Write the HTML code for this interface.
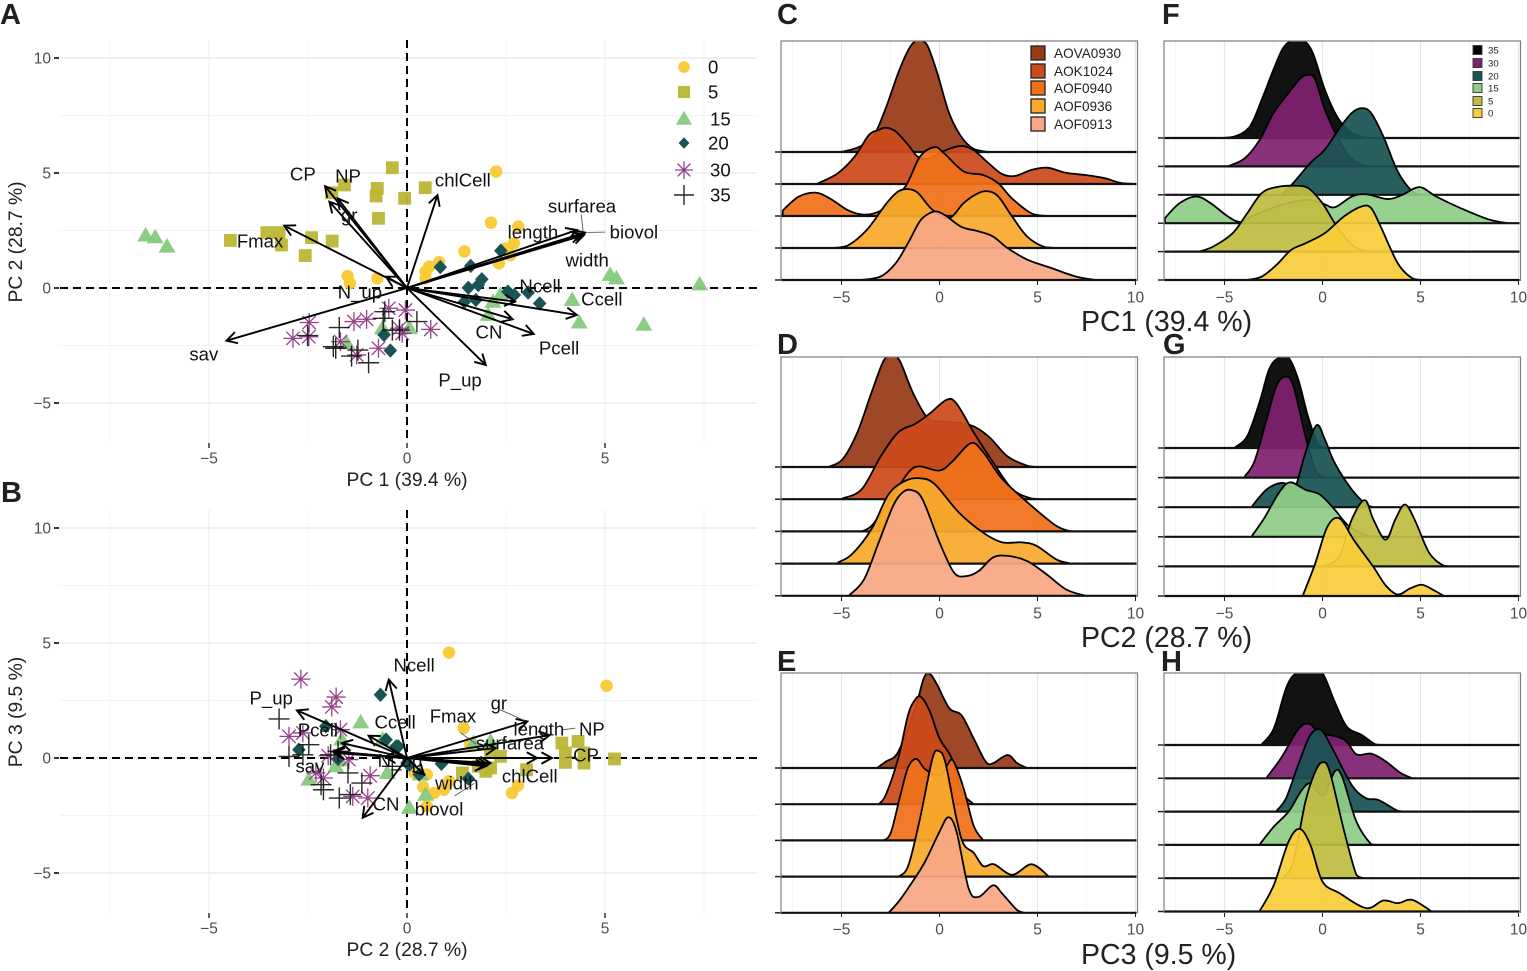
<!DOCTYPE html>
<html lang="en">
<head>
<meta charset="utf-8">
<title>PCA biplots and ridgeline densities</title>
<style>
html,body{margin:0;padding:0;background:#fff}
svg{display:block;font-family:"Liberation Sans",Arial,sans-serif}
</style>
</head>
<body>
<svg id="figure" xmlns="http://www.w3.org/2000/svg" width="1527" height="971" viewBox="0 0 1527 971">
<rect width="1527" height="971" fill="#fff"/>
</svg>
<script>
/* ---------- shared categories ---------- */
const groupOrder = ['0','5','15','20','30','35'];
const strainNames = ['AOVA0930','AOK1024','AOF0940','AOF0936','AOF0913'];
const tempNames = ['35','30','20','15','5','0'];
const strainColors = ['#973a17','#cc4a1c','#f0711a','#f8a92c','#f8a884'];
const tempColors = ['#000000','#7f2170','#1a5354','#8fcd87','#c0bd42','#f9cd3a'];
const scatterXTicks = [-5,0,5];
const scatterYTicks = [-5,0,5,10];
const ridgeTicks = [-5,0,5,10];

/* ---------- panel A scores (PC1, PC2) ---------- */
const a0 = [[2.25,5.06],[2.12,2.84],[2.81,2.67],[1.45,1.59],[.81,1.12],[.56,.93],[.47,.71],[-1.5,.52],[-1.44,.2],[-.75,.42],[.47,.42],[2.32,1.07],[2.61,1.43],[2.7,1.94],[2.48,1.72]];
const a5 = [[-.37,5.23],[-1.58,4.48],[-1.9,4.14],[-.75,4.33],[-.78,4.0],[-.06,3.9],[.46,4.36],[-.72,3.03],[-3.54,2.41],[-3.23,2.41],[-3.17,1.87],[-2.41,2.19],[-1.89,2.04],[-4.46,2.07],[-2.57,1.41]];
const a15 = [[-6.6,2.28],[-6.36,2.2],[-6.06,1.8],[5.13,.57],[5.29,.42],[7.39,.16],[4.17,-.52],[4.35,-1.5],[5.98,-1.6],[2.17,-.6],[2.05,-1.17],[2.36,-.3],[-.62,-1.75],[.06,-1.75],[-1.52,-2.4]];
const a20 = [[.84,.91],[1.61,.96],[2.37,1.62],[1.89,.38],[1.8,.13],[1.55,.01],[2.55,-.16],[2.71,-.3],[3.06,-.2],[3.35,-.67],[1.45,-.6],[1.74,-.52],[-.58,-2.04],[-.42,-2.72]];
const a30 = [[-.46,-.88],[-.04,-.96],[.6,-1.8],[-2.47,-1.5],[-1.34,-1.46],[-1.02,-1.36],[-2.88,-2.19],[-2.48,-2.12],[-1.68,-2.33],[-1.27,-2.91],[-.72,-2.62],[-.19,-1.75],[-.12,-1.97]];
const a35 = [[.25,-1.46],[-1.71,-1.72],[-2.51,-2.07],[-1.86,-2.55],[-1.8,-2.62],[-1.24,-2.7],[-1.4,-2.96],[-.97,-3.25],[-.37,-1.83],[-.19,-1.83],[-.6,-1.32],[-.56,-1.03]];
/* panel A loadings */
const aArrows = [[-2.07,4.43],[-1.96,3.75],[-1.75,3.9],[-3.1,2.71],[.77,4.04],[4.29,2.52],[4.5,2.41],[4.47,2.3],[4.4,2.35],[2.73,-.59],[4.29,-1.17],[2.67,-1.36],[3.2,-2.0],[1.99,-3.35],[-4.56,-2.29],[-.53,.49]];
const aLabelNames = ['CP','NP','gr','Fmax','chlCell','surfarea','biovol','length','width','Ncell','Ccell','N_up','CN','Pcell','P_up','sav'];
const aLabelX = [-2.63,-1.49,-1.46,-3.71,1.41,4.42,5.73,3.18,4.55,3.36,4.92,-1.19,2.07,3.84,1.34,-5.13];
const aLabelY = [4.96,4.87,3.17,2.04,4.7,3.57,2.43,2.43,1.22,.09,-.48,-.17,-1.91,-2.61,-4,-2.87];
const aLeaders = [[4.4,3.2,4.45,2.42],[4.55,2.42,5.0,2.43]];

/* ---------- panel B scores (PC2, PC3) ---------- */
const b0 = [[1.06,4.58],[5.04,3.14],[1.43,1.3],[1.59,.62],[.41,-1.26],[2.8,-1.2],[2.65,-1.52],[.68,-1.52],[.93,-1.38],[1.06,-1.01],[.5,-2.1],[.19,-.65],[.5,-.72],[1.86,-.22]];
const b5 = [[3.91,.65],[4.32,.72],[4.0,.22],[4.0,-.19],[4.47,-.22],[4.47,.22],[5.24,-.04],[3.02,-.51],[1.99,-.58],[2.11,-.43],[1.4,-.65],[2.36,.07],[2.11,.29],[1.8,-.36]];
const b15 = [[-1.17,1.55],[-1.65,.8],[-1.8,-.36],[-2.48,-.94],[-.5,-.65],[-.62,.8],[.34,-.72],[.47,-1.6],[.06,-2.17],[2.11,.72],[1.68,.65],[-1.7,-.1]];
const b20 = [[-.67,2.75],[-.53,.8],[-.22,.5],[-2.73,.36],[-2.05,1.38],[-1.74,-.04],[.87,-.25],[1.55,-.9],[.31,-.72],[0,-.22],[.06,-.29],[-.27,.51]];
const b30 = [[-2.68,3.43],[-1.79,2.65],[-1.9,2.22],[-1.68,1.23],[-2.98,.94],[-2.63,1.09],[-1.99,.1],[-1.47,-.07],[-2.3,-.65],[-2.11,-.87],[-.93,-.77],[-1.37,-1.67],[-.99,-1.74]];
const b35 = [[-3.23,1.7],[-2.48,.58],[-2.98,.07],[-2.63,.14],[-1.93,.14],[-1.74,.29],[-1.49,-.65],[-1.14,-1.09],[-2.17,-1.16],[-2.11,-1.38],[-1.71,-1.74],[-1.43,-1.59],[-.37,-.36]];
/* panel B loadings */
const bArrows = [[-.46,3.41],[-2.78,2.07],[-.97,.97],[-1.65,.65],[-1.86,.29],[-1.84,.22],[-.55,.05],[-1.12,-2.6],[3.04,1.59],[3.6,.99],[2.24,.43],[3.66,0],[3.29,0],[2.11,-.22],[2.05,-.29],[1.99,-.36],[.43,-.72]];
const bLabelNames = ['Ncell','P_up','Pcell','Ccell','Fmax','gr','length','NP','surfarea','CP','N_up','sav','width','chlCell','CN','biovol'];
const bLabelX = [.18,-3.43,-2.25,-.3,1.16,2.32,3.33,4.67,2.6,4.52,-.18,-2.45,1.26,3.1,-.53,.81];
const bLabelY = [4.04,2.61,1.22,1.57,1.83,2.39,1.26,1.26,.65,.13,-.1,-.35,-1.09,-.78,-2,-2.22];
const bLeaders = [[2.35,2.1,3.0,1.6],[1.35,1.1,1.75,.6],[3.9,1.22,4.25,1.3],[4.0,.02,4.25,.05],[1.2,-1.65,1.7,-1.1]];

/* ---------- ridge densities: [score, density in ridge-spacing units] ---------- */
const cAova0930 = [[-5,0],[-4.1,.16],[-3.35,.52],[-2.73,1.39],[-2.1,2.48],[-1.6,3.18],[-1.24,3.47],[-1,3.49],[-.62,3.33],[-.12,2.48],[.5,1.2],[1.12,.47],[1.74,.1],[2.5,0]];
const cAok1024 = [[-6.2,.02],[-5.2,.33],[-4.34,.85],[-3.6,1.53],[-3.1,1.69],[-2.73,1.76],[-2.23,1.64],[-1.6,1.22],[-1.1,.85],[-.5,.8],[.37,1.07],[1.12,1.19],[1.74,1.06],[2.5,.65],[3.2,.31],[3.85,.25],[4.7,.44],[5.5,.51],[6.45,.35],[7.45,.28],[8.44,.18],[9.2,.04],[9.95,0]];
const cAof0940 = [[-8,.17],[-7.2,.6],[-6.33,.73],[-5.6,.55],[-4.7,.19],[-4,.05],[-3.35,.08],[-2.73,.29],[-1.74,.92],[-1,1.85],[-.25,2.15],[.25,1.95],[1.24,1.39],[2.23,1.28],[3,1.02],[3.7,.55],[4.7,.08],[5.5,0]];
const cAof0936 = [[-5.45,0],[-4.7,.07],[-3.7,.57],[-2.7,1.4],[-2.1,1.77],[-1.6,1.84],[-1.1,1.72],[-.37,1.2],[.5,.94],[1.24,1.41],[2,1.72],[2.5,1.77],[3,1.61],[3.7,.99],[4.47,.36],[5.35,.03],[6,0]];
const cAof0913 = [[-4,0],[-3,.11],[-2.23,.53],[-1.6,1.16],[-1,1.84],[-.5,2.09],[-.12,2.14],[.37,1.99],[1.12,1.66],[2,1.52],[2.73,1.36],[3.47,1],[4.47,.64],[5.7,.375],[6.95,.11],[7.95,0]];

const dAova0930 = [[-5.7,0],[-4.96,.23],[-4.2,1.06],[-3.47,2.31],[-2.85,3.3],[-2.43,3.44],[-2.03,3.3],[-1.36,2.31],[-.62,1.53],[0,1.42],[1.49,1.32],[2.48,.96],[3.47,.33],[4.47,.04],[4.96,0]];
const dAok1024 = [[-4.96,.02],[-3.97,.31],[-2.98,1.35],[-2.1,2.08],[-1.24,2.34],[-.5,2.66],[.37,3.09],[.87,2.97],[1.74,2.08],[2.73,1.15],[3.72,.31],[4.7,.02],[5.2,0]];
const dAof0940 = [[-3.97,0],[-3.47,.17],[-2.73,.79],[-2,1.47],[-1.5,1.89],[-1,2.02],[0,1.89],[.62,2.15],[1.6,2.74],[2.23,2.46],[3.2,1.63],[4.7,.79],[5.96,.17],[6.7,0]];
const dAof0936 = [[-5.2,.03],[-4.47,.29],[-3.47,1.07],[-2.6,2.15],[-1.74,2.57],[-1,2.65],[-.25,2.47],[1,1.58],[2.23,.96],[3.2,.66],[4.2,.66],[4.96,.55],[5.96,.13],[6.7,0]];
const dAof0913 = [[-4.6,.02],[-3.85,.51],[-3.1,1.66],[-2.36,2.8],[-1.86,3.22],[-1.41,3.28],[-.87,3],[0,1.66],[.74,.72],[1.36,.61],[2,.77],[2.73,1.19],[3.47,1.24],[4.47,1.08],[5.46,.67],[6.45,.2],[7.44,0]];

const eAova0930 = [[-3.2,0],[-2.73,.18],[-2.1,.45],[-1.24,1.65],[-.8,2.48],[-.5,2.6],[-.12,2.3],[.5,1.65],[1.12,1.46],[1.74,.82],[2.35,.18],[2.73,.13],[3.47,.36],[3.97,.13],[4.47,0]];
const eAok1024 = [[-3.1,0],[-2.73,.27],[-2.1,1.28],[-1.6,2.47],[-1.24,2.89],[-.94,2.96],[-.5,2.57],[0,1.82],[.62,1.27],[1.12,.36],[1.74,0]];
const eAof0940 = [[-2.85,0],[-2.48,.22],[-2,1.24],[-1.6,2.02],[-1.17,2.25],[-.74,1.97],[0,1.79],[.37,2.06],[.7,2.2],[1.24,1.42],[1.74,.41],[2.23,0]];
const eAof0936 = [[-2.1,0],[-1.6,.29],[-1,1.59],[-.37,3.24],[-.05,3.47],[.3,3.15],[.87,1.59],[1.24,.89],[1.74,.66],[2.23,.29],[2.78,.34],[3.72,.05],[4.7,.34],[5.58,0]];
const eAof0913 = [[-2.6,0],[-2.1,.3],[-1.5,.76],[-.74,1.41],[0,2.24],[.45,2.64],[.87,2.24],[1.49,.67],[2,.44],[2.73,.76],[3.2,.53],[3.97,.07],[4.34,0]];

const fT35 = [[-5.3,0],[-4.46,.06],[-3.7,.41],[-3.1,1.35],[-2.5,2.41],[-2,3.18],[-1.5,3.45],[-1,3.45],[-.5,3],[.12,1.7],[.74,.76],[1.36,.24],[2,.04],[2.6,0]];
const fT30 = [[-4.83,0],[-3.96,.29],[-3.2,.94],[-2.5,1.88],[-1.73,2.59],[-1.1,3.12],[-.67,3.22],[-.37,3.06],[.12,2],[.74,1.06],[1.36,.35],[2,.06],[2.6,0]];
const fT20 = [[-2.1,0],[-1.5,.41],[-.62,1.12],[.12,1.59],[.87,2.35],[1.49,2.88],[2,3.05],[2.48,2.88],[3.1,2.06],[3.84,.82],[4.58,.12],[5.07,0]];
const fT15 = [[-8.04,.18],[-7.3,.7],[-6.44,.94],[-5.7,.7],[-4.83,.24],[-4.2,.04],[-3.6,.24],[-2.35,.59],[-.87,.82],[0,.7],[.62,.56],[1.5,.94],[2.23,1.02],[3.34,.85],[4.08,1],[4.95,1.27],[5.8,.94],[7.05,.53],[8.54,.12],[9.5,0]];
const fT5 = [[-6.3,0],[-5.57,.18],[-4.58,.65],[-3.84,1.35],[-3.1,2.06],[-2.35,2.27],[-1.49,2.32],[-.74,2.24],[0,1.7],[.74,.88],[1.6,.18],[2.35,0]];
const fT0 = [[-3.84,0],[-3.1,.12],[-2.35,.53],[-1.6,1.06],[-.87,1.29],[.12,1.65],[1.1,2.24],[2,2.59],[2.48,2.53],[2.97,1.88],[3.84,.59],[4.58,.06],[5.07,0]];

const gT35 = [[-4.46,.02],[-3.84,.4],[-3.22,1.53],[-2.72,2.66],[-2.23,3.05],[-1.73,3.05],[-1.24,2.32],[-.74,1.07],[-.25,.17],[.12,0]];
const gT30 = [[-3.96,.05],[-3.47,.55],[-2.85,1.97],[-2.35,3.1],[-1.9,3.41],[-1.49,3.1],[-.87,1.4],[-.37,.27],[.12,0]];
const gT20 = [[-3.6,.03],[-2.85,.6],[-2.1,.82],[-1.6,.71],[-1.36,.71],[-.87,1.84],[-.3,2.77],[.12,2.29],[.62,1.5],[1.49,.6],[2.23,.09],[2.6,0]];
const gT15 = [[-3.6,.03],[-2.97,.63],[-2.23,1.48],[-1.66,1.84],[-.87,1.59],[-.12,1.42],[.62,.92],[1.36,.35],[2.35,.03],[2.85,0]];
const gT5 = [[.12,.02],[.87,.34],[1.49,1.58],[2.15,2.24],[2.6,1.58],[3.22,.9],[3.71,1.58],[4.2,2.09],[4.7,1.58],[5.45,.45],[6.19,.02],[6.56,0]];
const gT0 = [[-1,.02],[-.37,1.1],[.25,2.34],[.87,2.62],[1.6,1.89],[2.6,.98],[3.22,.36],[3.84,.05],[4.46,.25],[5.07,.38],[5.69,.19],[6.19,0]];

const hT35 = [[-3.1,.02],[-2.48,.5],[-1.86,1.7],[-1.36,2.15],[-.62,2.22],[0,2.15],[.62,1.3],[1.24,.55],[2,.3],[2.7,.02],[3.1,0]];
const hT30 = [[-2.85,.02],[-2.1,.62],[-1.24,1.47],[-.7,1.64],[-.12,1.37],[1.1,1.17],[1.73,.72],[2.48,.74],[3.2,.52],[3.96,.17],[4.58,0]];
const hT20 = [[-2.35,.02],[-1.86,.4],[-1.24,1.4],[-.62,2.3],[-.07,2.45],[.5,1.9],[1.49,.8],[2.23,.4],[2.85,.35],[3.84,.02],[4.2,0]];
const hT15 = [[-3.2,.02],[-2.48,.55],[-1.73,1],[-1.11,1.6],[-.67,1.85],[-.25,1.6],[.12,1.5],[.62,2.2],[1,2.05],[1.73,.7],[2.48,.02],[2.8,0]];
const hT5 = [[-2,0],[-1.49,.5],[-.87,2.3],[-.37,3.2],[0,3.48],[.37,3.2],[1.11,1.4],[1.73,.1],[2.1,0]];
const hT0 = [[-3.2,.02],[-2.48,.8],[-1.73,2.1],[-1.16,2.48],[-.62,2],[0,.9],[.87,.55],[2.23,.1],[3.1,.33],[3.84,.25],[4.58,.35],[5.57,0]];

/* ---------- helpers ---------- */
const svg = document.getElementById('figure');
const NS = 'http://www.w3.org/2000/svg';
function mk(tag, attrs, parent) {
  const el = document.createElementNS(NS, tag);
  for (const k in attrs) el.setAttribute(k, attrs[k]);
  (parent || svg).appendChild(el);
  return el;
}
function txt(str, x, y, size, fill, anchor, parent, weight) {
  const t = mk('text', {x: x, y: y, 'font-size': size, fill: fill, 'text-anchor': anchor || 'middle', 'font-weight': weight || 'normal'}, parent);
  t.textContent = str;
  return t;
}
function minusFmt(v) { return v < 0 ? '\u2212' + Math.abs(v) : String(v); }

const markerColors = {circle: '#f9c932', square: '#b9b635', triangle: '#86c97e', diamond: '#1a5354', star: '#8a2f80', plus: '#111'};
const markerKinds = ['circle','square','triangle','diamond','star','plus'];
function marker(kind, x, y, parent, k) {
  const s = k || 1, c = markerColors[kind];
  if (kind === 'circle') return mk('circle', {cx: x, cy: y, r: 6.2 * s, fill: c, 'fill-opacity': .95}, parent);
  if (kind === 'square') return mk('rect', {x: x - 6.4 * s, y: y - 6.4 * s, width: 12.8 * s, height: 12.8 * s, fill: c, 'fill-opacity': .95}, parent);
  if (kind === 'triangle') return mk('path', {d: `M${x} ${y - 8.5 * s}L${x + 8.5 * s} ${y + 6 * s}L${x - 8.5 * s} ${y + 6 * s}Z`, fill: c, 'fill-opacity': .95}, parent);
  if (kind === 'diamond') return mk('path', {d: `M${x} ${y - 7.2 * s}L${x + 6.8 * s} ${y}L${x} ${y + 7.2 * s}L${x - 6.8 * s} ${y}Z`, fill: c}, parent);
  if (kind === 'star') {
    const r = 9.5 * s, d = r * .707;
    return mk('path', {d: `M${x - r} ${y}H${x + r}M${x} ${y - r}V${y + r}M${x - d} ${y - d}L${x + d} ${y + d}M${x - d} ${y + d}L${x + d} ${y - d}`, stroke: c, 'stroke-width': 1.3, fill: 'none', 'stroke-opacity': .9}, parent);
  }
  const r = 10.5 * s;
  return mk('path', {d: `M${x - r} ${y}H${x + r}M${x} ${y - r}V${y + r}`, stroke: c, 'stroke-width': 1.4, fill: 'none', 'stroke-opacity': .9}, parent);
}

/* ---------- scatter biplot panel ---------- */
function biplot(key, offsetY, scores, arrows, labelNames, labelX, labelY, leaders, xTitle, yTitle) {
  const xS = v => 407 + 39.6 * v;
  const yS = v => 288 + offsetY - 23 * v;
  const L = 60, R = 757, T = 40 + offsetY, B = 443 + offsetY;
  const g = mk('g', {}, svg);
  
  
  [-7.5,-2.5,2.5,7.5].forEach(v => mk('line', {x1: xS(v), x2: xS(v), y1: T, y2: B, stroke: '#f3f3f3', 'stroke-width': .7}, g));
  [-2.5,2.5,7.5].forEach(v => mk('line', {x1: L, x2: R, y1: yS(v), y2: yS(v), stroke: '#f1f1f1', 'stroke-width': .8}, g));
  scatterXTicks.forEach(v => {
    mk('line', {x1: xS(v), x2: xS(v), y1: T, y2: B, stroke: '#ebebeb', 'stroke-width': 1}, g);
    mk('line', {x1: xS(v), x2: xS(v), y1: B, y2: B + 5, stroke: '#222', 'stroke-width': 1.4}, g);
    const t = txt(minusFmt(v), xS(v), B + 20.5, 15.5, '#4d4d4d', 'middle', g);
    
    
  });
  scatterYTicks.forEach(v => {
    mk('line', {x1: L, x2: R, y1: yS(v), y2: yS(v), stroke: '#ebebeb', 'stroke-width': 1.6}, g);
    mk('line', {x1: 54, x2: 59, y1: yS(v), y2: yS(v), stroke: '#222', 'stroke-width': 1.8}, g);
    const t = txt(minusFmt(v), 51, yS(v) + 5.5, 15.5, '#4d4d4d', 'end', g);
    
    
  });
  mk('line', {x1: L, x2: R, y1: yS(0), y2: yS(0), stroke: '#000', 'stroke-width': 2, 'stroke-dasharray': '8 5'}, g);
  mk('line', {x1: xS(0), x2: xS(0), y1: T, y2: B, stroke: '#000', 'stroke-width': 2, 'stroke-dasharray': '8 5'}, g);
  scores.forEach((arr, i) => {
    const sg = mk('g', {}, g);
    
    
    arr.forEach(p => marker(markerKinds[i], xS(p[0]), yS(p[1]), sg));
  });
  const ag = mk('g', {fill: 'none', stroke: '#000', 'stroke-width': 1.9}, g);
  
  
  arrows.forEach(a => {
    const x = xS(a[0]), y = yS(a[1]), ang = Math.atan2(y - yS(0), x - xS(0)), h = 12;
    const p1 = [x - h * Math.cos(ang - .5), y - h * Math.sin(ang - .5)];
    const p2 = [x - h * Math.cos(ang + .5), y - h * Math.sin(ang + .5)];
    mk('path', {d: `M${xS(0)} ${yS(0)}L${x} ${y}M${p1[0]} ${p1[1]}L${x} ${y}L${p2[0]} ${p2[1]}`}, ag);
  });
  leaders.forEach(l => mk('line', {x1: xS(l[0]), y1: yS(l[1]), x2: xS(l[2]), y2: yS(l[3]), stroke: '#444', 'stroke-width': .8}, g));
  labelNames.forEach((name, i) => {
    const t = txt(name, xS(labelX[i]), yS(labelY[i]) + 6.5, 18.6, '#111', 'middle', g);
    
    
  });
  const xt = txt(xTitle, 407, 486 + offsetY, 19.3, '#222', 'middle', g);
  
  
  const cy = 242 + offsetY;
  const yt = txt(yTitle, 0, 0, 19.3, '#222', 'middle', g);
  yt.setAttribute('transform', `translate(22 ${cy}) rotate(-90)`);
  
  
}

biplot('a', 0, [a0,a5,a15,a20,a30,a35], aArrows, aLabelNames, aLabelX, aLabelY, aLeaders, 'PC 1 (39.4 %)', 'PC 2 (28.7 %)');
biplot('b', 470, [b0,b5,b15,b20,b30,b35], bArrows, bLabelNames, bLabelX, bLabelY, bLeaders, 'PC 2 (28.7 %)', 'PC 3 (9.5 %)');

/* ---------- scatter legend ---------- */
const legendRowY = [67,92,119,143,170,195];
const legendTextX = [708,708,710,708,710,710];
const sl = mk('g', {}, svg);


groupOrder.forEach((name, i) => {
  const e = mk('g', {}, sl);
  
  
  marker(markerKinds[i], 684, legendRowY[i], e, i === 3 ? .8 : .95);
  txt(name, legendTextX[i], legendRowY[i] + 6.5, 18.6, '#111', 'start', e);
});

/* ---------- ridgeline panel ---------- */
function smoothTop(pts) {
  let d = '';
  for (let i = 0; i < pts.length - 1; i++) {
    const p0 = pts[Math.max(i - 1, 0)], p1 = pts[i], p2 = pts[i + 1], p3 = pts[Math.min(i + 2, pts.length - 1)];
    const c1x = p1[0] + (p2[0] - p0[0]) / 6, c2x = p2[0] - (p3[0] - p1[0]) / 6;
    const c1y = Math.min(p1[1] + (p2[1] - p0[1]) / 6, p1[2]), c2y = Math.min(p2[1] - (p3[1] - p1[1]) / 6, p1[2]);
    d += `C${c1x} ${c1y} ${c2x} ${c2y} ${p2[0]} ${p2[1]}`;
  }
  return d;
}
function ridgePanel(key, x0, top, bottom, firstBase, spacing, series, names, colors, title, titleX, titleY) {
  const xS = v => x0 + 19.6 * v;
  const L = x0 - 158.5, R = x0 + 198;
  const g = mk('g', {}, svg);
  
  
  const clip = mk('clipPath', {id: 'clip-' + key}, g);
  mk('rect', {x: L, y: top, width: R - L, height: bottom - top + 2}, clip);
  [-7.5,-2.5,2.5,7.5].forEach(v => mk('line', {x1: xS(v), x2: xS(v), y1: top, y2: bottom, stroke: '#f2f2f2', 'stroke-width': .7}, g));
  ridgeTicks.forEach(v => {
    mk('line', {x1: xS(v), x2: xS(v), y1: top, y2: bottom, stroke: '#e6e6e6', 'stroke-width': 1.1}, g);
    mk('line', {x1: xS(v), x2: xS(v), y1: bottom, y2: bottom + 4, stroke: '#222', 'stroke-width': 1}, g);
    const t = txt(minusFmt(v), xS(v), bottom + 21.5, 15.5, '#4d4d4d', 'middle', g);
    
    
  });
  const body = mk('g', {'clip-path': `url(#clip-${key})`}, g);
  series.forEach((arr, i) => {
    const base = firstBase + i * spacing;
    const pts = arr.map(p => [xS(p[0]), base - p[1] * spacing, base]);
    const top1 = `M${pts[0][0]} ${pts[0][1]}` + smoothTop(pts);
    const area = mk('path', {d: `M${pts[0][0]} ${base}L${pts[0][0]} ${pts[0][1]}` + smoothTop(pts) + `L${pts[pts.length - 1][0]} ${base}Z`, fill: colors[i], 'fill-opacity': .93, stroke: 'none'}, body);
    
    
    mk('path', {d: top1 + `M${pts[0][0]} ${pts[0][1]}V${base}`, fill: 'none', stroke: '#000', 'stroke-width': 1.8, 'stroke-linejoin': 'round'}, body);
    mk('line', {x1: L, x2: R - 1, y1: base, y2: base, stroke: '#111', 'stroke-width': 2.2}, body);
    mk('line', {x1: L - 6, x2: L, y1: base, y2: base, stroke: '#222', 'stroke-width': 1.5}, g);
  });
  const frame = mk('path', {d: `M${L} ${bottom}V${top}H${R}V${bottom}`, fill: 'none', stroke: '#7f7f7f', 'stroke-width': 1.2}, g);
  
  
  if (title) {
    const t = txt(title, titleX, titleY, 28.5, '#222', 'start', g);
    
    
  }
}

ridgePanel('c', 939.5, 41, 281, 152, 32, [cAova0930,cAok1024,cAof0940,cAof0936,cAof0913], strainNames, strainColors, 'PC1 (39.4 %)', 1081, 331);
ridgePanel('d', 939.5, 357, 597, 467, 32.2, [dAova0930,dAok1024,dAof0940,dAof0936,dAof0913], strainNames, strainColors, 'PC2 (28.7 %)', 1081, 647);
ridgePanel('e', 939.5, 673, 913, 768, 36.2, [eAova0930,eAok1024,eAof0940,eAof0936,eAof0913], strainNames, strainColors, 'PC3 (9.5 %)', 1081, 964);
ridgePanel('f', 1322.5, 41, 281, 138, 28.4, [fT35,fT30,fT20,fT15,fT5,fT0], tempNames, tempColors);
ridgePanel('g', 1322.5, 357, 597, 448, 29.6, [gT35,gT30,gT20,gT15,gT5,gT0], tempNames, tempColors);
ridgePanel('h', 1322.5, 673, 913, 745, 33.3, [hT35,hT30,hT20,hT15,hT5,hT0], tempNames, tempColors);

/* ---------- ridge legends ---------- */
const strainLegendY = [53,71,88,106,124];
const sLeg = mk('g', {}, svg);


strainNames.forEach((name, i) => {
  const e = mk('g', {}, sLeg);
  
  
  mk('rect', {x: 1031, y: strainLegendY[i] - 7, width: 14, height: 14, fill: strainColors[i], stroke: '#222', 'stroke-width': 1.3}, e);
  txt(name, 1054, strainLegendY[i] + 4.8, 13.6, '#222', 'start', e);
});
const tempLegendY = [50,63,76,88,101,113];
const tLeg = mk('g', {}, svg);


tempNames.forEach((name, i) => {
  const e = mk('g', {}, tLeg);
  
  
  mk('rect', {x: 1473, y: tempLegendY[i] - 4.5, width: 9, height: 9, fill: tempColors[i], stroke: '#333', 'stroke-width': .9}, e);
  txt(name, 1488, tempLegendY[i] + 3.6, 9.6, '#222', 'start', e);
});

/* ---------- panel letters ---------- */
const panelLetters = ['A','B','C','D','E','F','G','H'];
const letterX = [0,1,777,777,777,1162,1163,1161];
const letterY = [24,502,24,354,671,24,354,671];
panelLetters.forEach((ch, i) => {
  const t = txt(ch, letterX[i], letterY[i], 29, '#231f20', 'start', svg, 'bold');
  
  
});
</script>
</body>
</html>
